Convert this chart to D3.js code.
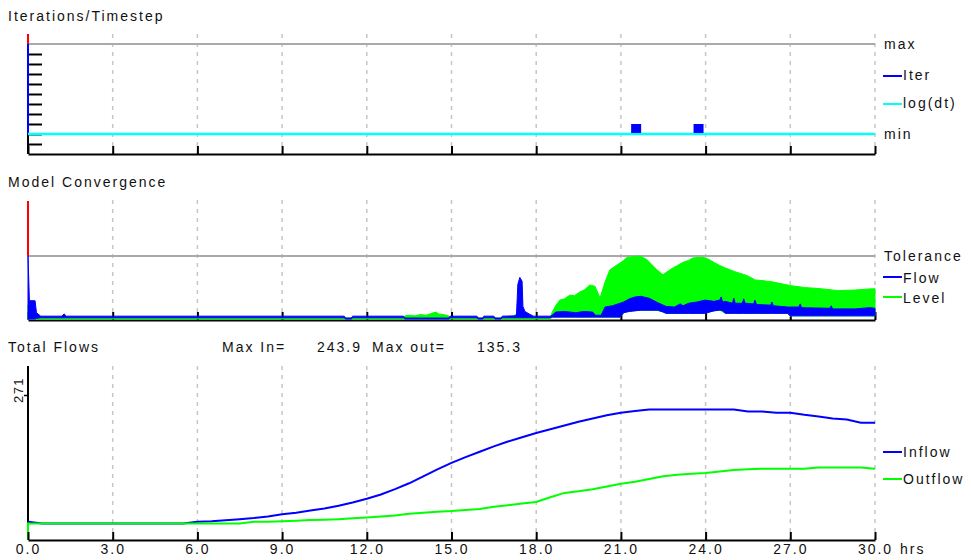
<!DOCTYPE html>
<html><head><meta charset="utf-8">
<script src="https://cdn.jsdelivr.net/npm/d3@7"></script>
<style>
html,body{margin:0;padding:0;background:#fff;}
svg text{font-family:"Liberation Sans",Arial,sans-serif;font-size:14px;letter-spacing:2px;fill:#111;}
</style></head><body>
<svg id="c" width="971" height="560"></svg>
<script>
// ---------- data ----------
const hourTicks = [0, 3, 6, 9, 12, 15, 18, 21, 24, 27, 30];
const hourLabels = ["0.0", "3.0", "6.0", "9.0", "12.0", "15.0", "18.0", "21.0", "24.0", "27.0", "30.0"];
const hourUnit = "hrs";

// Iterations / timestep panel
const iterTicks = [-1, 0, 1, 2, 3, 4, 5, 6, 7, 8];
const iterMax = 9, iterMin = 0, iterOver = 10;
const iterHours = [21.54, 23.75];
const iterValues = [1, 1];
const iterLegend = ["max", "Iter", "log(dt)", "min"];

// Model convergence panel: [hour, low, high]
const convTolerance = 1.0, convOver = 1.875;
const flowBand = [
  [0, 0, 1.0], [0.05, 0, 0.29], [0.25, 0, 0.29], [0.3, 0.01, 0.10], [0.45, 0.02, 0.045],
  [1.2, 0.02, 0.045], [1.28, 0.02, 0.08], [1.36, 0.02, 0.045], [11.2, 0.02, 0.045],
  [11.25, 0, 0.015], [11.45, 0, 0.015], [11.5, 0.02, 0.045], [13.3, 0.02, 0.045],
  [13.35, 0, 0.015], [14.9, 0, 0.015], [14.95, 0.02, 0.045], [15.9, 0.02, 0.045],
  [15.95, 0, 0.015], [16.1, 0, 0.015], [16.15, 0.02, 0.045], [16.5, 0.02, 0.045],
  [16.55, 0, 0.015], [16.75, 0, 0.015], [16.8, 0.02, 0.045], [17.3, 0.02, 0.05],
  [17.35, 0.02, 0.55], [17.42, 0.02, 0.66], [17.5, 0.02, 0.60], [17.53, 0.02, 0.20],
  [17.6, 0.02, 0.12], [17.75, 0.02, 0.08], [17.9, 0.02, 0.045], [18.5, 0.02, 0.045],
  [18.56, 0.03, 0.06], [18.7, 0.03, 0.11], [19.0, 0.03, 0.12], [19.4, 0.03, 0.10],
  [19.7, 0.03, 0.12], [20.0, 0.03, 0.11], [20.1, 0.03, 0.06], [20.3, 0.03, 0.06],
  [20.44, 0.03, 0.19], [20.7, 0.03, 0.21], [20.97, 0.03, 0.25], [21.1, 0.10, 0.27],
  [21.3, 0.12, 0.32], [21.5, 0.13, 0.35], [21.7, 0.14, 0.36], [22.0, 0.14, 0.33],
  [22.3, 0.14, 0.26], [22.5, 0.11, 0.22], [22.6, 0.09, 0.20], [22.9, 0.09, 0.19],
  [23.1, 0.09, 0.24], [23.2, 0.09, 0.21], [23.4, 0.09, 0.25], [23.7, 0.09, 0.27],
  [23.98, 0.09, 0.30], [24.3, 0.13, 0.28], [24.5, 0.14, 0.30], [24.55, 0.14, 0.35],
  [24.6, 0.13, 0.27], [24.7, 0.09, 0.28], [24.95, 0.09, 0.25], [25.0, 0.09, 0.33],
  [25.05, 0.09, 0.25], [25.3, 0.09, 0.25], [25.35, 0.09, 0.32], [25.4, 0.09, 0.25],
  [25.7, 0.09, 0.24], [25.75, 0.09, 0.30], [25.8, 0.09, 0.23], [26.3, 0.09, 0.22],
  [26.35, 0.09, 0.27], [26.4, 0.09, 0.21], [26.9, 0.09, 0.19], [27.0, 0.05, 0.19],
  [27.3, 0.05, 0.19], [27.35, 0.05, 0.24], [27.4, 0.05, 0.18], [28.4, 0.05, 0.17],
  [28.45, 0.05, 0.21], [28.5, 0.05, 0.16], [29.3, 0.05, 0.16], [29.8, 0.05, 0.18], [30, 0.05, 0.17]
];
const levelBand = [
  [0, 0, 0.22], [0.1, 0, 0.05], [0.2, 0, 0.015], [13.3, 0, 0.015], [13.35, 0, 0.05],
  [13.5, 0, 0.06], [13.7, 0, 0.05], [13.9, 0, 0.07], [14.1, 0, 0.06], [14.3, 0, 0.09],
  [14.45, 0, 0.11], [14.55, 0, 0.08], [14.7, 0, 0.07], [14.9, 0, 0.05], [14.95, 0, 0.015],
  [17.2, 0, 0.015], [17.25, 0, 0.07], [17.6, 0, 0.05], [17.7, 0, 0.015], [18.5, 0, 0.015],
  [18.56, 0.03, 0.10], [18.7, 0.03, 0.22], [18.84, 0.03, 0.30], [19.0, 0.03, 0.32],
  [19.2, 0.03, 0.38], [19.35, 0.03, 0.37], [19.55, 0.03, 0.43], [19.7, 0.03, 0.46],
  [19.9, 0.03, 0.54], [20.08, 0.03, 0.52], [20.2, 0.03, 0.40], [20.26, 0.03, 0.33],
  [20.44, 0.03, 0.59], [20.61, 0.03, 0.78], [20.8, 0.03, 0.84], [20.97, 0.03, 0.89],
  [21.1, 0.10, 0.93], [21.22, 0.12, 0.98], [21.5, 0.13, 0.99], [21.68, 0.14, 1.0],
  [21.93, 0.14, 0.94], [22.1, 0.14, 0.86], [22.28, 0.14, 0.78], [22.49, 0.11, 0.70],
  [22.6, 0.09, 0.74], [22.84, 0.09, 0.81], [23.0, 0.09, 0.85], [23.2, 0.09, 0.90],
  [23.4, 0.09, 0.93], [23.55, 0.09, 0.97], [23.9, 0.09, 0.98], [24.1, 0.11, 0.95],
  [24.33, 0.13, 0.89], [24.5, 0.14, 0.85], [24.7, 0.09, 0.81], [25.04, 0.09, 0.75],
  [25.4, 0.09, 0.70], [25.6, 0.09, 0.66], [25.75, 0.09, 0.62], [26.0, 0.09, 0.61],
  [26.35, 0.09, 0.59], [26.9, 0.09, 0.54], [27.0, 0.05, 0.53], [27.5, 0.05, 0.50],
  [28.1, 0.05, 0.48], [28.7, 0.05, 0.45], [29.3, 0.05, 0.46], [29.9, 0.05, 0.48], [30, 0.05, 0.48]
];
const convLegend = ["Tolerance", "Flow", "Level"];

// Total flows panel (0.5 h steps)
const flowHours = [0, 0, 0.5, 1, 1.5, 2, 2.5, 3, 3.5, 4, 4.5, 5, 5.5, 6, 6.5, 7, 7.5, 8, 8.5, 9, 9.5,
  10, 10.5, 11, 11.5, 12, 12.5, 13, 13.5, 14, 14.5, 15, 15.5, 16, 16.5, 17, 17.5, 18, 18.5, 19, 19.5,
  20, 20.5, 21, 21.5, 22, 22.5, 23, 23.5, 24, 24.5, 25, 25.5, 26, 26.5, 27, 27.5, 28, 28.5, 29, 29.5, 30];
const inflow = [34, 34, 31, 31, 31, 31, 31, 31, 31, 31, 31, 31, 31, 34, 35, 37, 39, 41, 44, 48, 51,
  55, 59, 64, 70, 77, 85, 95, 106, 119, 132, 144, 155, 165, 175, 184, 192, 200, 207, 214, 221,
  227, 233, 238, 241, 243.9, 243.9, 243.9, 243.9, 243.9, 243.9, 243.9, 240, 240, 238, 238, 234, 231, 227, 225, 219, 219];
const outflow = [0, 31, 31, 31, 31, 31, 31, 31, 31, 31, 31, 31, 31, 31, 31, 31, 31, 34, 34, 35, 36,
  37.5, 38, 39, 40.5, 42, 44, 46, 49, 51, 53, 54, 56, 58, 62, 65, 68, 71, 80, 88, 91,
  95, 100, 105, 109, 114, 119, 122, 124, 125, 128, 131, 132, 133, 133, 133, 133, 135.3, 135.3, 135.3, 135.3, 133];
const flowAxisMax = 271;
const maxIn = 243.9, maxOut = 135.3;
const flowLegend = ["Inflow", "Outflow"];
const titles = ["Iterations/Timestep", "Model Convergence", "Total Flows"];

// ---------- drawing ----------
const BLUE = "#0000ff", GREEN = "#00ff00", CYAN = "#00ffff", RED = "#ff0000", GRAY = "#a9a9a9";
const svg = d3.select("#c");
const x = d3.scaleLinear().domain([0, 30]).range([28, 875]);
const LX = 883;

function grid(top, bottom) {
  svg.append("g").selectAll("line").data(hourTicks.slice(1)).join("line")
    .attr("x1", d => x(d)).attr("x2", d => x(d)).attr("y1", top).attr("y2", bottom)
    .attr("stroke", "#c6c6c6").attr("stroke-width", 1.5).attr("stroke-dasharray", "4,5");
}
function xAxis(yPos, withLabels) {
  const ax = d3.axisBottom(x).tickValues(hourTicks).tickSizeInner(-8).tickSizeOuter(0).tickPadding(4)
    .tickFormat(withLabels ? ((d, i) => hourLabels[i]) : "");
  const g = svg.append("g").attr("transform", `translate(0,${yPos})`).call(ax)
    .attr("font-size", null).attr("font-family", null);
  g.select(".domain").attr("stroke", "#000").attr("stroke-width", 2);
  g.selectAll(".tick line").attr("stroke", "#000").attr("stroke-width", 2);
  return g;
}
function legendLine(y, color) {
  svg.append("line").attr("x1", LX).attr("x2", LX + 19).attr("y1", y).attr("y2", y)
    .attr("stroke", color).attr("stroke-width", 2);
}
function txt(xp, yp, s, anchor) {
  return svg.append("text").attr("x", xp).attr("y", yp).attr("text-anchor", anchor || "start").text(s);
}

// ---- Panel 1: Iterations/Timestep ----
txt(8, 21, titles[0]);
const yIter = d3.scaleLinear().domain([iterMin, iterMax]).range([134, 44]);
const p1Bottom = 154;
grid(34, p1Bottom);
svg.append("line").attr("x1", x(0)).attr("x2", x(0)).attr("y1", yIter(iterMax)).attr("y2", p1Bottom)
  .attr("stroke", "#000").attr("stroke-width", 2);
svg.append("g").attr("transform", `translate(${x(0)},0)`)
  .call(d3.axisRight(yIter).tickValues(iterTicks).tickSize(14).tickFormat(""))
  .call(g => g.select(".domain").remove())
  .call(g => g.selectAll(".tick line").attr("stroke", "#000").attr("stroke-width", 2));
svg.append("line").attr("x1", x(0)).attr("x2", x(30)).attr("y1", yIter(iterMax)).attr("y2", yIter(iterMax))
  .attr("stroke", GRAY).attr("stroke-width", 2);
svg.append("line").attr("x1", x(0)).attr("x2", x(0)).attr("y1", yIter(iterOver)).attr("y2", yIter(iterMax))
  .attr("stroke", RED).attr("stroke-width", 2);
svg.append("line").attr("x1", x(0)).attr("x2", x(0)).attr("y1", yIter(iterMax)).attr("y2", yIter(iterMin))
  .attr("stroke", BLUE).attr("stroke-width", 2);
svg.append("line").attr("x1", x(0)).attr("x2", x(30)).attr("y1", yIter(iterMin)).attr("y2", yIter(iterMin))
  .attr("stroke", CYAN).attr("stroke-width", 2.5);
svg.append("g").selectAll("rect").data(iterHours.map((t, i) => [t, iterValues[i]])).join("rect")
  .attr("x", d => x(d[0]) - 5).attr("width", 10)
  .attr("y", d => yIter(d[1])).attr("height", d => yIter(0) - yIter(d[1]) - 1).attr("fill", BLUE);
xAxis(p1Bottom, false);
txt(LX + 1, 49, iterLegend[0]);
legendLine(76, BLUE); txt(LX + 20, 80, iterLegend[1]);
legendLine(104, CYAN); txt(LX + 20, 108, iterLegend[2]);
txt(LX + 1, 139, iterLegend[3]);

// ---- Panel 2: Model Convergence ----
txt(8, 187, titles[1]);
const yConv = d3.scaleLinear().domain([0, convTolerance]).range([319, 256]);
grid(200, 320);
svg.append("line").attr("x1", x(0)).attr("x2", x(30)).attr("y1", yConv(convTolerance)).attr("y2", yConv(convTolerance))
  .attr("stroke", GRAY).attr("stroke-width", 2);
svg.append("line").attr("x1", x(0)).attr("x2", x(0)).attr("y1", yConv(convOver)).attr("y2", yConv(convTolerance))
  .attr("stroke", RED).attr("stroke-width", 2);
xAxis(320, false);
const band = d3.area().x(d => x(d[0])).y0(d => yConv(d[1])).y1(d => yConv(d[2]));
svg.append("path").datum(levelBand).attr("d", band).attr("fill", GREEN).attr("stroke", GREEN).attr("stroke-width", 1);
svg.append("path").datum(flowBand).attr("d", band).attr("fill", BLUE).attr("stroke", BLUE).attr("stroke-width", 1);
txt(LX + 1, 261, convLegend[0]);
legendLine(277, BLUE); txt(LX + 20, 283, convLegend[1]);
legendLine(297, GREEN); txt(LX + 20, 303, convLegend[2]);

// ---- Panel 3: Total Flows ----
txt(8, 352, titles[2]);
txt(222, 352, "Max In=");
txt(362, 352, maxIn.toFixed(1), "end");
txt(372, 352, "Max out=");
txt(522, 352, maxOut.toFixed(1), "end");
const yFlow = d3.scaleLinear().domain([0, flowAxisMax]).range([540, 395]);
grid(366, 540);
svg.append("line").attr("x1", x(0)).attr("x2", x(0)).attr("y1", 366).attr("y2", 540)
  .attr("stroke", "#000").attr("stroke-width", 2);
svg.append("g").attr("transform", `translate(${x(0)},0)`)
  .call(d3.axisLeft(yFlow).tickValues([flowAxisMax]).tickSize(4).tickFormat(""))
  .call(g => g.select(".domain").remove())
  .call(g => g.selectAll(".tick line").attr("stroke", "#000").attr("stroke-width", 1.5));
svg.append("text").attr("transform", `translate(23,${yFlow(flowAxisMax) - 5}) rotate(-90)`)
  .attr("text-anchor", "middle").style("font-size", "13px").style("letter-spacing", "1.5px").text(String(flowAxisMax));
const lineFlow = d3.line().x((d, i) => x(flowHours[i])).y(d => yFlow(d)).curve(d3.curveLinear);
svg.append("path").datum(inflow).attr("d", lineFlow).attr("fill", "none").attr("stroke", BLUE).attr("stroke-width", 2);
svg.append("path").datum(outflow).attr("d", lineFlow).attr("fill", "none").attr("stroke", GREEN).attr("stroke-width", 2);
xAxis(540, true);
txt(x(30) + 25, 554, hourUnit);
legendLine(452, BLUE); txt(LX + 20, 457, flowLegend[0]);
legendLine(479, GREEN); txt(LX + 20, 484, flowLegend[1]);
</script>
</body></html>
